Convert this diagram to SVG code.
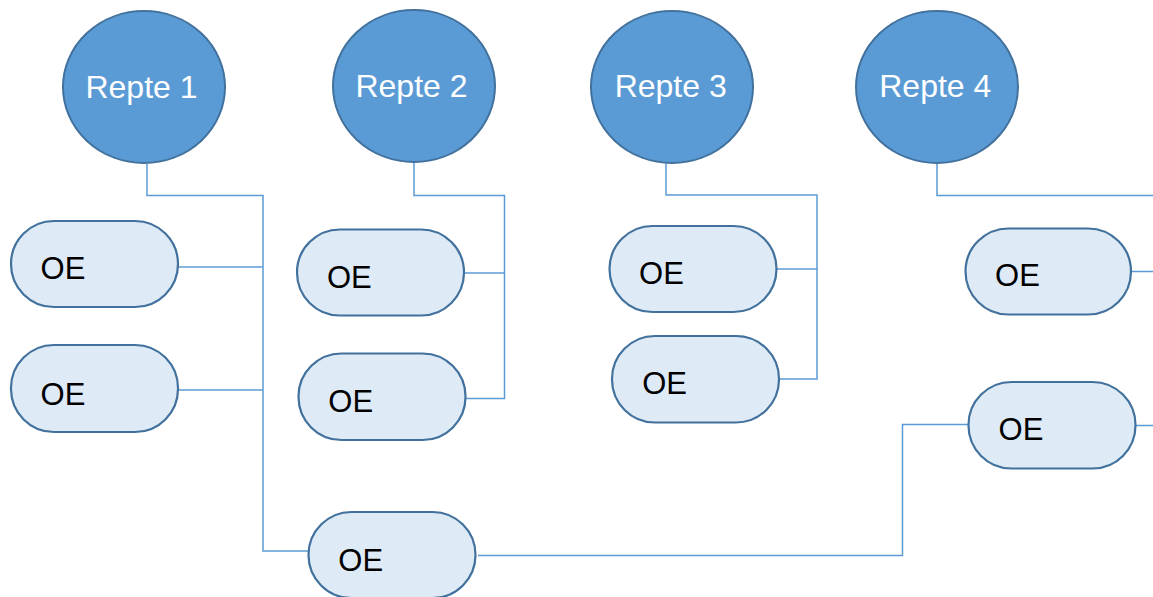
<svg xmlns="http://www.w3.org/2000/svg" width="1153" height="597" viewBox="0 0 1153 597">
<style>
.rep{fill:#5B9BD5;stroke:#41719C;stroke-width:2}
.oe{fill:#DEEBF7;stroke:#41719C;stroke-width:2.2}
.rt{font-family:"Liberation Sans",Arial,sans-serif;font-size:32px;fill:#FFFFFF;text-anchor:middle}
.ot{font-family:"Liberation Sans",Arial,sans-serif;font-size:31px;fill:#000000;text-anchor:middle}
.con{fill:none;stroke:#5B9BD5;stroke-width:1.5}
</style>
<rect width="1153" height="597" fill="#FFFFFF"/>
<g id="connectors">
<polyline class="con" points="147,164 147,195.5 263,195.5 263,551 309,551"/>
<polyline class="con" points="178,267 263,267"/>
<polyline class="con" points="178,390 263,390"/>
<polyline class="con" points="414,163 414,195.5 504.5,195.5 504.5,398.5 466,398.5"/>
<polyline class="con" points="464,273 504.5,273"/>
<polyline class="con" points="666,163 666,195 817,195 817,379 779,379"/>
<polyline class="con" points="777,269 817,269"/>
<polyline class="con" points="937,163 937,195.5 1153,195.5"/>
<polyline class="con" points="1131,271.5 1153,271.5"/>
<polyline class="con" points="1136,425.5 1153,425.5"/>
<polyline class="con" points="478,555.5 902.5,555.5 902.5,424.5 970,424.5"/>
</g>
<g id="repte1"><ellipse class="rep" cx="144" cy="87" rx="81" ry="76"/><text class="rt" x="141.5" y="97.5">Repte 1</text></g>
<g id="repte2"><ellipse class="rep" cx="414" cy="86" rx="81" ry="76"/><text class="rt" x="411.5" y="97">Repte 2</text></g>
<g id="repte3"><ellipse class="rep" cx="672" cy="87" rx="81" ry="76"/><text class="rt" x="670.7" y="97">Repte 3</text></g>
<g id="repte4"><ellipse class="rep" cx="937" cy="87" rx="81" ry="76"/><text class="rt" x="935.3" y="97">Repte 4</text></g>
<g id="oe1a"><rect class="oe" x="11" y="221" width="167" height="86" rx="43" ry="43"/><text class="ot" x="63" y="278.5">OE</text></g>
<g id="oe1b"><rect class="oe" x="11" y="345" width="167" height="87" rx="43" ry="43"/><text class="ot" x="63" y="404.5">OE</text></g>
<g id="oe1c"><rect class="oe" x="308.5" y="512" width="167" height="86" rx="43" ry="43"/><text class="ot" x="360.7" y="571">OE</text></g>
<g id="oe2a"><rect class="oe" x="297" y="229.5" width="167" height="86" rx="43" ry="43"/><text class="ot" x="349.3" y="287.5">OE</text></g>
<g id="oe2b"><rect class="oe" x="298.5" y="353.5" width="167" height="86.5" rx="43" ry="43"/><text class="ot" x="350.7" y="411.5">OE</text></g>
<g id="oe3a"><rect class="oe" x="609.5" y="226" width="167" height="86" rx="43" ry="43"/><text class="ot" x="661.5" y="283.5">OE</text></g>
<g id="oe3b"><rect class="oe" x="612" y="336" width="167" height="86.5" rx="43" ry="43"/><text class="ot" x="664.6" y="393.5">OE</text></g>
<g id="oe4a"><rect class="oe" x="965.5" y="228.5" width="165.5" height="86" rx="43" ry="43"/><text class="ot" x="1017.5" y="285.5">OE</text></g>
<g id="oe4b"><rect class="oe" x="968.5" y="382" width="167" height="86.5" rx="43" ry="43"/><text class="ot" x="1021" y="439.5">OE</text></g>
</svg>
